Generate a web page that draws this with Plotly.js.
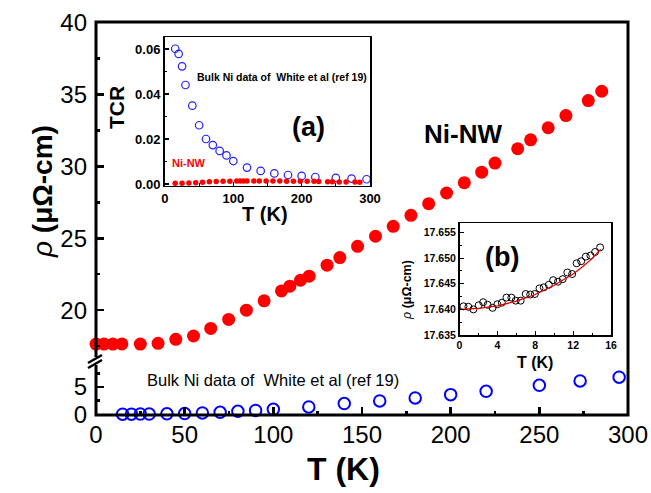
<!DOCTYPE html>
<html><head><meta charset="utf-8">
<script src="https://cdn.plot.ly/plotly-3.0.1.min.js"></script>
<style>html,body{margin:0;padding:0;background:#fff;}#chart{width:651px;height:493px;}</style>
</head><body><div id="chart"></div>
<script>
// Main panel: Ni nanowire resistivity (upper broken segment)
const nwT   = [0, 4.5, 9.5, 14.6, 25, 35, 45, 55, 64.7, 74.8, 84.8, 94.8, 104.6, 109.3, 115.3, 120.2, 130.3, 137.5, 147.5, 157.6, 167.6, 177.6, 187.6, 197.7, 207.7, 217.5, 225, 237.8, 245.1, 255, 265, 277.6, 285.2];
const nwRho = [17.64, 17.64, 17.64, 17.65, 17.64, 17.69, 17.97, 18.2, 18.73, 19.35, 20.0, 20.65, 21.34, 21.67, 22.08, 22.36, 23.13, 23.66, 24.44, 25.14, 25.83, 26.6, 27.41, 28.15, 28.87, 29.6, 30.23, 31.23, 31.85, 32.69, 33.54, 34.58, 35.23];
// Bulk Ni (White et al) resistivity (lower segment) and TCR (inset a)
const bulkT   = [15, 20, 25, 30, 40, 50, 60, 70, 80, 90, 100, 120, 140, 160, 180, 200, 220, 250, 273, 295];
const bulkRho = [0.02, 0.03, 0.04, 0.05, 0.08, 0.13, 0.24, 0.37, 0.55, 0.7, 0.92, 1.34, 1.96, 2.44, 3.0, 3.6, 4.2, 5.3, 6.1, 6.8];
const bulkTCR = [0.0601, 0.0578, 0.0523, 0.0440, 0.0348, 0.0261, 0.0200, 0.0173, 0.0147, 0.0127, 0.0102, 0.0073, 0.0058, 0.0047, 0.0040, 0.0036, 0.0031, 0.0027, 0.0024, 0.0021];
// Inset a: Ni-NW TCR
const tcrT  = [15, 25, 35, 45, 55, 65, 75, 85, 95, 105, 110, 115, 120, 130, 138, 148, 158, 168, 178, 188, 198, 208, 218, 225, 238, 245, 255, 265, 278, 285];
const tcrNW = [0.0003, 0.0003, 0.0004, 0.0006, 0.0008, 0.0010, 0.0011, 0.0012, 0.0012, 0.0013, 0.0013, 0.0013, 0.0013, 0.0013, 0.0013, 0.0013, 0.0013, 0.0013, 0.0012, 0.0012, 0.0012, 0.0012, 0.0012, 0.0011, 0.0010, 0.0010, 0.0009, 0.0009, 0.0009, 0.0008];
// Inset b: low-T Ni-NW resistivity and fit
const lowT   = [0.42, 0.94, 1.47, 2.03, 2.5, 2.97, 3.49, 4.0, 4.47, 4.96, 5.48, 5.94, 6.46, 6.99, 7.47, 7.96, 8.45, 8.9, 9.43, 9.89, 10.4, 10.9, 11.39, 11.9, 12.37, 12.85, 13.34, 13.83, 14.32, 14.85];
const lowRho = [17.6406, 17.6405, 17.6400, 17.6408, 17.6414, 17.6409, 17.6403, 17.6410, 17.6413, 17.6423, 17.6423, 17.6417, 17.6417, 17.6430, 17.6429, 17.6430, 17.6441, 17.6443, 17.6448, 17.6457, 17.6454, 17.6459, 17.6472, 17.6469, 17.6490, 17.6494, 17.6503, 17.6505, 17.6512, 17.6521];
const fitT   = [0, 2, 4, 6, 8, 10, 12, 13, 14, 14.9];
const fitRho = [17.6400, 17.6402, 17.6407, 17.6416, 17.6429, 17.6447, 17.6469, 17.6483, 17.6499, 17.6517];

const FONT = "Liberation Sans, Arial, Helvetica, sans-serif";
const L = 96, R = 628, T = 22, B = 415;
const px = x => (x - L) / (R - L);
const py = y => (B - y) / (B - T);
const brk = py(360);

const traces = [
  {x: nwT, y: nwRho, xaxis: 'x', yaxis: 'y2', mode: 'markers', cliponaxis: false,
   marker: {color: '#ff0000', size: 13}},
  {x: bulkT, y: bulkRho, xaxis: 'x', yaxis: 'y', mode: 'markers', cliponaxis: false,
   marker: {symbol: 'circle-open', color: '#0000ff', size: 11.5, line: {width: 2, color: '#0000ff'}}},
  {x: bulkT, y: bulkTCR, xaxis: 'x3', yaxis: 'y3', mode: 'markers', cliponaxis: false,
   marker: {symbol: 'circle-open', color: '#2020ff', size: 7.5, line: {width: 1.2, color: '#2020ff'}}},
  {x: tcrT, y: tcrNW, xaxis: 'x3', yaxis: 'y3', mode: 'markers', cliponaxis: false,
   marker: {color: '#ff0000', size: 5.5}},
  {x: lowT, y: lowRho, xaxis: 'x4', yaxis: 'y4', mode: 'markers', cliponaxis: false,
   marker: {symbol: 'circle-open', color: '#000', size: 7, line: {width: 1, color: '#000'}}},
  {x: fitT, y: fitRho, xaxis: 'x4', yaxis: 'y4', mode: 'lines',
   line: {color: '#e00000', width: 1.3}}
];

const mainTick = {ticks: 'inside', ticklen: 8, tickwidth: 2.5, tickcolor: '#000',
  showgrid: false, zeroline: false, showline: false, automargin: false,
  tickfont: {family: FONT, size: 24, color: '#000'}};
const insTick = (sz) => ({ticks: 'inside', ticklen: 4, tickwidth: 1.2, tickcolor: '#000',
  showgrid: false, zeroline: false, showline: true, mirror: true, linewidth: 1.5, linecolor: '#000',
  automargin: false, tickfont: {family: FONT, size: sz, color: '#000', weight: 700}});

const ann = (text, x, y, size, extra) => Object.assign({text: text, x: px(x), y: py(y), xref: 'paper', yref: 'paper',
  xanchor: 'center', yanchor: 'middle', showarrow: false, font: {family: FONT, size: size, color: '#000'}}, extra || {});

const layout = {
  width: 651, height: 493, showlegend: false,
  margin: {l: L, r: 651 - R, t: T, b: 493 - B, pad: 0},
  paper_bgcolor: '#fff', plot_bgcolor: 'rgba(0,0,0,0)',
  xaxis: Object.assign({}, mainTick, {domain: [0, 1], anchor: 'y', range: [0, 300],
    tickmode: 'linear', tick0: 0, dtick: 50, ticklabelstandoff: 3,
    minor: {dtick: 25, ticks: 'inside', ticklen: 4, tickwidth: 2.5, tickcolor: '#000'}}),
  yaxis: Object.assign({}, mainTick, {domain: [0, brk], anchor: 'x', range: [-0.13, 9.94],
    tickmode: 'linear', tick0: 0, dtick: 5, ticklabelstandoff: 8,
    minor: {dtick: 2.5, ticks: 'inside', ticklen: 4, tickwidth: 2.5, tickcolor: '#000'}}),
  yaxis2: Object.assign({}, mainTick, {domain: [brk, 1], anchor: 'x', range: [16.53, 40.05],
    tickmode: 'linear', tick0: 0, dtick: 5, ticklabelstandoff: 8,
    minor: {dtick: 2.5, ticks: 'inside', ticklen: 4, tickwidth: 2.5, tickcolor: '#000'}}),
  xaxis3: Object.assign({}, insTick(13), {domain: [px(164.5), px(370)], anchor: 'y3', range: [-0.7, 300],
    tickmode: 'linear', tick0: 0, dtick: 100,
    minor: {dtick: 50, ticks: 'inside', ticklen: 2.5, tickwidth: 1, tickcolor: '#000'}}),
  yaxis3: Object.assign({}, insTick(13), {domain: [py(185.7), py(37.3)], anchor: 'x3', range: [-0.00076, 0.0652],
    tickmode: 'linear', tick0: 0, dtick: 0.02, tickformat: '.2f',
    minor: {dtick: 0.01, ticks: 'inside', ticklen: 2.5, tickwidth: 1, tickcolor: '#000'}}),
  xaxis4: Object.assign({}, insTick(10.5), {domain: [px(459.5), px(611)], anchor: 'y4', range: [0, 16],
    tickmode: 'linear', tick0: 0, dtick: 4,
    minor: {dtick: 2, ticks: 'inside', ticklen: 2.5, tickwidth: 1, tickcolor: '#000'}}),
  yaxis4: Object.assign({}, insTick(10.5), {domain: [py(335), py(223.3)], anchor: 'x4', range: [17.635, 17.6568],
    tickmode: 'linear', tick0: 17.635, dtick: 0.005, tickformat: '.3f',
    minor: {dtick: 0.0025, ticks: 'inside', ticklen: 2.5, tickwidth: 1, tickcolor: '#000'}}),
  shapes: [
    {type: 'rect', xref: 'paper', yref: 'paper', x0: 0, x1: 1, y0: 0, y1: 1,
     line: {color: '#000', width: 3}, fillcolor: 'rgba(0,0,0,0)', layer: 'above'},
    {type: 'rect', xref: 'paper', yref: 'paper', x0: px(92), x1: px(100), y0: py(365), y1: py(357),
     line: {width: 0}, fillcolor: '#fff', layer: 'above'},
    {type: 'line', xref: 'paper', yref: 'paper', x0: px(88), y0: py(363), x1: px(102), y1: py(355),
     line: {color: '#000', width: 2.5}, layer: 'above'},
    {type: 'line', xref: 'paper', yref: 'paper', x0: px(88), y0: py(368), x1: px(102), y1: py(360),
     line: {color: '#000', width: 2.5}, layer: 'above'}
  ],
  annotations: [
    ann('<b>T (K)</b>', 343, 469, 32),
    ann('<i>ρ</i> <b>(μΩ-cm)</b>', 42, 192, 28, {textangle: -90}),
    ann('<b>Ni-NW</b>', 463, 134, 26),
    ann('Bulk Ni data of \u00a0White et al (ref 19)', 145, 380, 16.5, {xanchor: 'left'}),
    // inset a
    ann('<b>TCR</b>', 117, 108, 21, {textangle: -90}),
    ann('<b>T (K)</b>', 265, 214, 20),
    ann('<b>Bulk Ni data of \u00a0White et al (ref 19)</b>', 282, 77, 10.5),
    ann('<b>(a)</b>', 308, 127, 27),
    ann('<b>Ni-NW</b>', 189, 163, 11, {font: {family: FONT, size: 11, color: '#ff0000'}}),
    // inset b
    ann('<i>ρ</i> <b>(μΩ-cm)</b>', 407, 290, 12.5, {textangle: -90}),
    ann('<b>T (K)</b>', 535, 362, 16),
    ann('<b>(b)</b>', 502, 257, 27)
  ]
};

Plotly.newPlot('chart', traces, layout, {staticPlot: true, displayModeBar: false});
</script>
</body></html>
